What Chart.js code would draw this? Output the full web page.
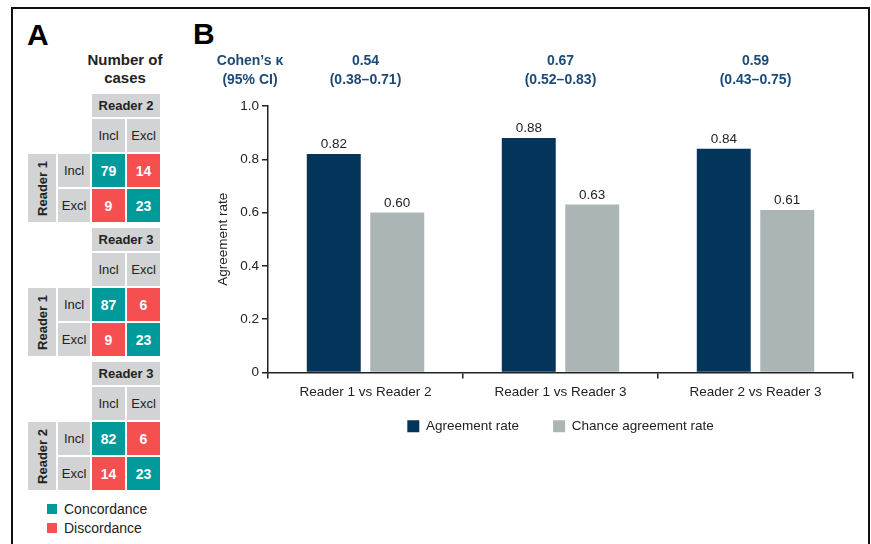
<!DOCTYPE html>
<html>
<head>
<meta charset="utf-8">
<script src="https://cdn.jsdelivr.net/npm/chart.js@4.4.1/dist/chart.umd.min.js"></script>
<style>
  html, body { margin: 0; padding: 0; background: #fff; }
  body { width: 871px; height: 544px; position: relative; overflow: hidden;
         font-family: "Liberation Sans", Arial, sans-serif; color: #222; }
  #frame { position: absolute; left: 11px; top: 7px; width: 855px; height: 600px;
           border: 2px solid #111; border-bottom: none; }
  .letter { position: absolute; font-weight: bold; font-size: 30px; line-height: 30px; color: #000; }
  #numCases { position: absolute; left: 70px; top: 51px; width: 110px; text-align: center;
              font-weight: bold; font-size: 15px; line-height: 18px; }
  .mtx { position: absolute; left: 28px; display: grid;
         grid-template-columns: 28px 32px 33px 33px; grid-template-rows: 23px 33px 33px 33px;
         gap: 2px; font-size: 13px; }
  .mtx div { display: flex; align-items: center; justify-content: center; }
  .g { background: #d1d3d4; }
  .hdr { font-weight: bold; grid-column: 3 / span 2; }
  .vlab { grid-column: 1; grid-row: 3 / span 2; font-weight: bold; }
  .vlab span { writing-mode: vertical-rl; transform: rotate(180deg); }
  .num { color: #fff; font-weight: bold; font-size: 14px; }
  .keyA { position: absolute; left: 47px; font-size: 14px; line-height: 14px; }
  .keyA i { position: absolute; left: 0; top: 2px; width: 10px; height: 10px; }
  .keyA span { position: absolute; left: 17px; top: 0; white-space: nowrap; }
  #chartBox { position: absolute; left: 190px; top: 0; }
</style>
</head>
<body>
<div id="frame"></div>
<div class="letter" style="left:27px; top:20px;">A</div>
<div class="letter" style="left:193px; top:19px;">B</div>
<div id="numCases">Number of<br>cases</div>
<div id="panelA"></div>
<div id="chartBox"><canvas id="myChart" width="681" height="544"></canvas></div>

<script>
// panel A - counts per reader pair: [incl/incl, incl/excl, excl/incl, excl/excl]
const rowReaders = ['Reader 1', 'Reader 1', 'Reader 2'];
const colReaders = ['Reader 2', 'Reader 3', 'Reader 3'];
const matrixCounts = [
  [79, 14, 9, 23],
  [87, 6, 9, 23],
  [82, 6, 14, 23]
];
const decisionLabels = ['Incl', 'Excl'];
const keyLabels = ['Concordance', 'Discordance'];

// panel B
const pairLabels = ['Reader 1 vs Reader 2', 'Reader 1 vs Reader 3', 'Reader 2 vs Reader 3'];
const agreementRate = [0.82, 0.88, 0.84];
const chanceRate = [0.60, 0.63, 0.61];
const kappaValues = ['0.54', '0.67', '0.59'];
const kappaCIs = ['(0.38–0.71)', '(0.52–0.83)', '(0.43–0.75)'];
const yTickLabels = ['0', '0.2', '0.4', '0.6', '0.8', '1.0'];

const teal = '#009a9a';
const red = '#f64f4f';
const navy = '#03345a';
const grey = '#abb5b5';
const kappaBlue = '#1b4a78';
const FONT = '"Liberation Sans", Arial, sans-serif';

// build the three small tables
const panelA = document.getElementById('panelA');
matrixCounts.forEach(function(counts, t) {
  const grid = document.createElement('div');
  grid.className = 'mtx';
  grid.style.top = (94 + t * 134) + 'px';
  let html = '<div class="g hdr" style="grid-row:1">' + colReaders[t] + '</div>';
  html += '<div class="g" style="grid-row:2;grid-column:3">' + decisionLabels[0] + '</div>';
  html += '<div class="g" style="grid-row:2;grid-column:4">' + decisionLabels[1] + '</div>';
  html += '<div class="g vlab"><span>' + rowReaders[t] + '</span></div>';
  for (let r = 0; r < 2; r++) {
    html += '<div class="g" style="grid-row:' + (r + 3) + ';grid-column:2">' + decisionLabels[r] + '</div>';
    for (let c = 0; c < 2; c++) {
      const col = r === c ? teal : red;
      html += '<div class="num" style="grid-row:' + (r + 3) + ';grid-column:' + (c + 3) +
              ';background:' + col + '">' + counts[r * 2 + c] + '</div>';
    }
  }
  grid.innerHTML = html;
  panelA.appendChild(grid);
});
keyLabels.forEach(function(txt, i) {
  const k = document.createElement('div');
  k.className = 'keyA';
  k.style.top = (502 + i * 19) + 'px';
  k.innerHTML = '<i style="background:' + (i === 0 ? teal : red) + '"></i><span>' + txt + '</span>';
  panelA.appendChild(k);
});

// value labels over the bars
const barLabels = {
  id: 'barLabels',
  afterDatasetsDraw(chart) {
    const ctx = chart.ctx;
    ctx.save();
    ctx.font = '13.5px ' + FONT;
    ctx.fillStyle = '#222';
    ctx.textAlign = 'center';
    ctx.textBaseline = 'bottom';
    chart.data.datasets.forEach(function(ds, di) {
      chart.getDatasetMeta(di).data.forEach(function(bar, i) {
        ctx.fillText(ds.data[i].toFixed(2), bar.x, bar.y - 3);
      });
    });
    ctx.restore();
  }
};

// Cohen's kappa row above the plot
const kappaRow = {
  id: 'kappaRow',
  afterDraw(chart) {
    const ctx = chart.ctx;
    const x = chart.scales.x;
    ctx.save();
    ctx.font = 'bold 14px ' + FONT;
    ctx.fillStyle = kappaBlue;
    ctx.textAlign = 'center';
    ctx.textBaseline = 'middle';
    ctx.fillText('Cohen’s κ', 60, 61);
    ctx.fillText('(95% CI)', 60, 80);
    kappaValues.forEach(function(v, i) {
      const cx = x.getPixelForValue(i);
      ctx.fillText(v, cx, 61);
      ctx.fillText(kappaCIs[i], cx, 80);
    });
    ctx.restore();
  }
};

// the legend padding also spaces the items apart, so pull the box up a bit
const legendLift = {
  id: 'legendLift',
  afterLayout(chart) {
    chart.legend.top -= 17;
    chart.legend.bottom -= 17;
  }
};

const data = {
  labels: pairLabels,
  datasets: [
    { label: 'Agreement rate', data: agreementRate, backgroundColor: navy, borderWidth: 0,
      categoryPercentage: 0.651, barPercentage: 0.85 },
    { label: 'Chance agreement rate', data: chanceRate, backgroundColor: grey, borderWidth: 0,
      categoryPercentage: 0.651, barPercentage: 0.85 }
  ]
};

const config = {
  type: 'bar',
  data: data,
  options: {
    responsive: false,
    animation: false,
    layout: { padding: { top: 106, right: 18, bottom: 84, left: 0 } },
    plugins: {
      tooltip: { enabled: false },
      legend: {
        position: 'bottom',
        fullSize: false,
        labels: { boxWidth: 12, boxHeight: 12, padding: 34, color: '#222',
                  font: { family: FONT, size: 13.5 } }
      }
    },
    scales: {
      x: {
        grid: { drawOnChartArea: false, drawTicks: true, tickLength: 6, color: '#222', lineWidth: 1.5, offset: true },
        border: { display: true, color: '#222', width: 1.5 },
        ticks: { color: '#222', padding: 6, font: { family: FONT, size: 13.5 } },
        afterFit: function(scale) { scale.height = 30; }
      },
      y: {
        min: 0, max: 1,
        grid: { drawOnChartArea: false, drawTicks: true, tickLength: 6, color: '#222', lineWidth: 1.5 },
        border: { display: true, color: '#222', width: 1.5 },
        ticks: { stepSize: 0.2, color: '#222', padding: 3, font: { family: FONT, size: 13.5 },
                 callback: function(v, i) { return yTickLabels[i]; } },
        title: { display: true, text: 'Agreement rate', color: '#222',
                 font: { family: FONT, size: 13.5 }, padding: { top: 25, bottom: 0 } },
        afterFit: function(scale) { scale.width = 78; }
      }
    }
  },
  plugins: [barLabels, kappaRow, legendLift]
};

const myChart = new Chart(document.getElementById('myChart'), config);
</script>
</body>
</html>
